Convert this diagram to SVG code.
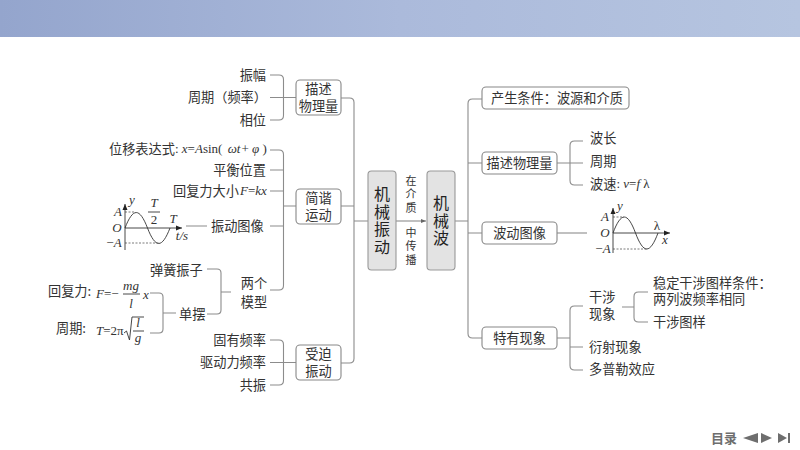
<svg xmlns="http://www.w3.org/2000/svg" width="800" height="450" viewBox="0 0 800 450">
<defs>
<linearGradient id="banner" x1="0" y1="0" x2="1" y2="0"><stop offset="0" stop-color="#94a5cd"/><stop offset="0.5" stop-color="#abbadb"/><stop offset="1" stop-color="#b6c5e0"/></linearGradient>
<marker id="arr" markerWidth="6" markerHeight="5" refX="5" refY="2.500" orient="auto" markerUnits="userSpaceOnUse"><path d="M0 0.500L5 2.500L0 4.500z" fill="#666"/></marker>
<marker id="arrDark" markerWidth="7" markerHeight="6" refX="6" refY="3" orient="auto" markerUnits="userSpaceOnUse"><path d="M0 0.500L6 3L0 5.500z" fill="#222"/></marker>
</defs>
<style>
text{font-family:"Noto Sans CJK SC","Noto Sans",sans-serif;font-size:13.2px;fill:#333;dominant-baseline:central;transform:translateY(-0.800px)}
.m{text-anchor:middle}
.e{text-anchor:end}
.i{font-family:"Liberation Serif",serif;font-style:italic;font-size:13px}
.r{font-family:"Liberation Serif",serif;font-size:13px}
.big{font-size:16px;fill:#222;writing-mode:vertical-rl;letter-spacing:1.800px}
.sm{font-size:11px;writing-mode:vertical-rl;letter-spacing:2.600px}
.box{fill:#fff;stroke:#888;stroke-width:1.100}
.main{fill:#e3e3e3;stroke:#999;stroke-width:1.100}
.ln{fill:none;stroke:#8c8c8c;stroke-width:1.100}
.ax{fill:none;stroke:#333;stroke-width:0.900}
.da{fill:none;stroke:#444;stroke-width:0.700;stroke-dasharray:2 1.500}
.nav{fill:#6e6e6e}
</style>
<rect width="800" height="37" fill="url(#banner)"/>
<g id="connectors">
<path class="ln" d="M270 75H279Q283.500 75 283.500 79.500V115.500Q283.500 120 279 120H270M270 97.500H296"/>
<path class="ln" d="M270 150H279Q283.500 150 283.500 154.500V285.500Q283.500 290 279 290H270M270 170H283.500M270 191H283.500M270 226H283.500M283.500 206H296M186 226H207"/>
<path class="ln" d="M207 269H217Q221 269 221 273V310Q221 314 217 314H207M221 292H231"/>
<path class="ln" d="M150 293H159Q163 293 163 297V329Q163 333 159 333H150M163 313H176"/>
<path class="ln" d="M270 340H279Q283.500 340 283.500 344.500V380.500Q283.500 385 279 385H270M270 362.500H296"/>
<path class="ln" d="M341 98H349.500Q354 98 354 102.500V358.500Q354 363 349.500 363H341M341 206H354M354 221H368"/>
<path class="ln" d="M396 221H426" marker-end="url(#arr)"/>
<path class="ln" d="M482 99H472.500Q468 99 468 103.500V333.500Q468 338 472.500 338H482M468 163H482M468 233H482M455 221H468"/>
<path class="ln" d="M583 141H574.500Q570 141 570 145.500V180.500Q570 185 574.500 185H583M557 163H583"/>
<path class="ln" d="M557 233H587"/>
<path class="ln" d="M583 306H574.500Q570 306 570 310.500V365.500Q570 370 574.500 370H583M557 338H570M570 347H583"/>
<path class="ln" d="M622 307H634M648 292H638.500Q634 292 634 296.500V317.500Q634 322 638.500 322H648"/>
</g>
<g id="node-zhenfu"><text class="e" x="266" y="75.500">振幅</text></g>
<g id="node-zhouqi"><text class="e" x="267" y="97.500">周期（频率）</text></g>
<g id="node-xiangwei"><text class="e" x="266" y="120">相位</text></g>
<g id="node-weiyi"><text x="109" y="149">位移表达式<tspan class="r">: </tspan><tspan class="i">x</tspan><tspan class="r">=</tspan><tspan class="i">A</tspan><tspan class="r">sin( </tspan><tspan class="i" dx="2">ωt</tspan><tspan class="r" dx="1">+ </tspan><tspan class="i">φ</tspan><tspan class="r"> )</tspan></text></g>
<g id="node-pingheng"><text class="e" x="266" y="170">平衡位置</text></g>
<g id="node-huifu"><text x="173" y="191">回复力大小<tspan class="i" dx="1">F</tspan><tspan class="r">=</tspan><tspan class="i">kx</tspan></text></g>
<g id="node-zhendong-graph">
<path class="ax" d="M125 250V204" marker-end="url(#arrDark)"/>
<path class="ax" d="M125 228H182" marker-end="url(#arrDark)"/>
<path class="ax" d="M125 228C133 207.400 139.500 207.400 147.500 228C155.500 248.600 162 248.600 170 228"/>
<path class="da" d="M125 212H135M125 243H159"/>
<path class="ax" d="M148 212H160"/>
<text class="i" x="118" y="212" text-anchor="middle">A</text>
<text class="i" x="117" y="228" text-anchor="middle">O</text>
<text class="r" x="114" y="243" text-anchor="middle">−<tspan class="i">A</tspan></text>
<text class="i" x="132" y="200" text-anchor="middle">y</text>
<text class="i" x="154" y="203" text-anchor="middle">T</text>
<text class="r" x="154" y="220" text-anchor="middle">2</text>
<text class="i" x="173" y="219" text-anchor="middle">T</text>
<text class="i" x="182" y="236" text-anchor="middle">t/s</text>
</g>
<g id="node-zhendongtuxiang"><text x="211" y="226">振动图像</text></g>
<g id="node-liangge"><text class="m"><tspan x="254" y="283">两个</tspan><tspan x="254" y="302">模型</tspan></text></g>
<g id="node-tanhuang"><text x="150" y="270">弹簧振子</text></g>
<g id="node-danbai"><text x="179" y="314">单摆</text></g>
<g id="node-huifuli">
<text x="48" y="291">回复力: <tspan class="i" x="96" y="294">F</tspan><tspan class="r">=−</tspan></text>
<text class="i" x="131" y="286" text-anchor="middle">mg</text>
<path class="ax" d="M123 294H140"/>
<text class="i" x="131" y="304" text-anchor="middle">l</text>
<text class="i" x="143" y="295">x</text>
</g>
<g id="node-zhouqi2">
<text x="56" y="328">周期: <tspan class="i" x="96" y="331">T</tspan><tspan class="r">=2π</tspan></text>
<path class="ax" d="M124 333L126.500 331L129.500 340L132 317H144"/>
<text class="i" x="138" y="323" text-anchor="middle">l</text>
<path class="ax" d="M133 331H144"/>
<text class="i" x="138" y="338" text-anchor="middle">g</text>
</g>
<g id="node-guyou"><text class="e" x="266" y="340">固有频率</text></g>
<g id="node-qudong"><text class="e" x="266" y="362">驱动力频率</text></g>
<g id="node-gongzhen"><text class="e" x="266" y="385">共振</text></g>
<g id="node-miaoshu"><rect class="box" x="296" y="80" width="45" height="35" rx="4"/><text class="m"><tspan x="318.500" y="89">描述</tspan><tspan x="318.500" y="106">物理量</tspan></text></g>
<g id="node-jianxie"><rect class="box" x="296" y="189" width="45" height="35" rx="4"/><text class="m"><tspan x="318.500" y="198">简谐</tspan><tspan x="318.500" y="215">运动</tspan></text></g>
<g id="node-shoupo"><rect class="box" x="296" y="345" width="45" height="35" rx="4"/><text class="m"><tspan x="318.500" y="354">受迫</tspan><tspan x="318.500" y="371">振动</tspan></text></g>
<g id="node-jixiezhendong"><rect class="main" x="368" y="171" width="28" height="99" rx="3.500"/><text class="big" x="382" y="186.500">机械振动</text></g>
<g id="node-label"><text class="sm" x="411" y="176">在介质</text><text class="sm" x="411" y="228">中传播</text></g>
<g id="node-jixiebo"><rect class="main" x="427" y="171" width="28" height="99" rx="3.500"/><text class="big" x="441" y="195.500">机械波</text></g>
<g id="node-chansheng"><rect class="box" x="482" y="87" width="147" height="22" rx="4"/><text x="491" y="98">产生条件：波源和介质</text></g>
<g id="node-miaoshu2"><rect class="box" x="482" y="152" width="75" height="22" rx="4"/><text class="m" x="519.500" y="163.500">描述物理量</text></g>
<g id="node-bodong"><rect class="box" x="482" y="222" width="75" height="22" rx="4"/><text class="m" x="519.500" y="233.500">波动图像</text></g>
<g id="node-teyou"><rect class="box" x="482" y="327" width="75" height="22" rx="4"/><text class="m" x="519.500" y="338">特有现象</text></g>
<g id="node-bochang"><text x="590" y="138">波长</text></g>
<g id="node-zhouqi3"><text x="590" y="161">周期</text></g>
<g id="node-bosu"><text x="590" y="184">波速<tspan class="r">: </tspan><tspan class="i">v</tspan><tspan class="r">=</tspan><tspan class="i">f</tspan><tspan class="r"> λ</tspan></text></g>
<g id="node-wave-graph">
<path class="ax" d="M613 253V208" marker-end="url(#arrDark)"/>
<path class="ax" d="M613 233H670" marker-end="url(#arrDark)"/>
<path class="ax" d="M613 233C621 211.700 627.500 211.700 635.500 233C643.500 254.300 650 254.300 658 233"/>
<path class="da" d="M613 217H624M613 249H648"/>
<text class="i" x="605" y="217" text-anchor="middle">A</text>
<text class="i" x="605" y="233" text-anchor="middle">O</text>
<text class="r" x="603" y="249" text-anchor="middle">−<tspan class="i">A</tspan></text>
<text class="i" x="620" y="206" text-anchor="middle">y</text>
<text class="r" x="657" y="226" text-anchor="middle">λ</text>
<text class="i" x="665" y="240" text-anchor="middle">x</text>
</g>
<g id="node-ganshe"><text><tspan x="589" y="297">干涉</tspan><tspan x="589" y="314">现象</tspan></text></g>
<g id="node-wending"><text><tspan x="653" y="283">稳定干涉图样条件：</tspan><tspan x="653" y="299">两列波频率相同</tspan></text></g>
<g id="node-gansheyang"><text x="653" y="322">干涉图样</text></g>
<g id="node-yanshe"><text x="589" y="347">衍射现象</text></g>
<g id="node-duopule"><text x="589" y="369">多普勒效应</text></g>
<g id="nav">
<text x="711" y="438" style="font-weight:700;font-size:13px;fill:#6e6e6e">目录</text>
<path class="nav" d="M758 433V443L743 438z"/>
<path class="nav" d="M761 433V443L772 438z"/>
<path class="nav" d="M778 433V443L787 438z"/>
<rect class="nav" x="788" y="433" width="2" height="10"/>
</g>
</svg>
